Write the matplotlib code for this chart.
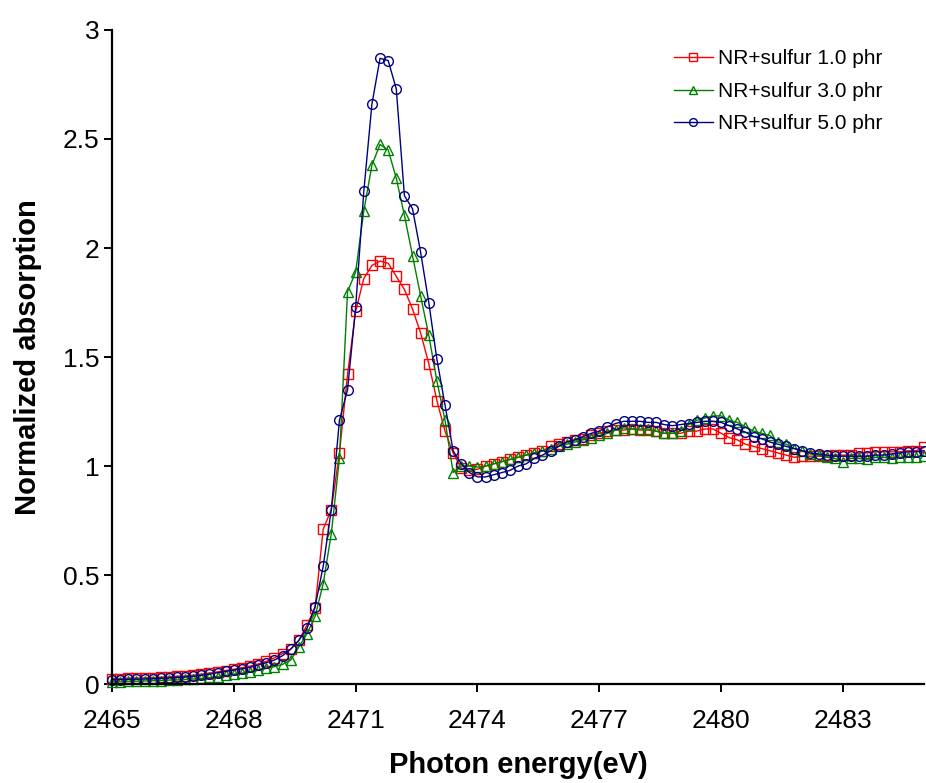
import numpy as np
import matplotlib
matplotlib.use('Agg')
import matplotlib.pyplot as plt

plt.rcParams['font.family'] = ['Liberation Sans', 'DejaVu Sans']

# energia co 0.2 eV od 2465 do 2485
e_start, e_step, n_pts = 2465.0, 0.2, 101
energy = np.round(e_start + e_step * np.arange(n_pts), 1)

labels = ['NR+sulfur 1.0 phr', 'NR+sulfur 3.0 phr', 'NR+sulfur 5.0 phr']

s10 = [0.025, 0.025, 0.026, 0.027, 0.028, 0.029, 0.031, 0.033, 0.035, 0.037,
       0.040, 0.045, 0.050, 0.056, 0.062, 0.068, 0.075, 0.082, 0.092, 0.104,
       0.120, 0.140, 0.160, 0.200, 0.270, 0.350, 0.710, 0.800, 1.060, 1.420,
       1.710, 1.860, 1.920, 1.940, 1.930, 1.870, 1.810, 1.720, 1.610, 1.470,
       1.300, 1.160, 1.060, 0.990, 0.980, 0.985, 1.000, 1.010, 1.020, 1.030,
       1.040, 1.050, 1.060, 1.070, 1.090, 1.100, 1.110, 1.120, 1.125, 1.140,
       1.150, 1.160, 1.165, 1.165, 1.170, 1.165, 1.165, 1.160, 1.150, 1.150,
       1.150, 1.160, 1.160, 1.170, 1.170, 1.150, 1.130, 1.120, 1.100, 1.090,
       1.080, 1.070, 1.060, 1.050, 1.040, 1.045, 1.045, 1.045, 1.045, 1.050,
       1.050, 1.050, 1.060, 1.060, 1.065, 1.065, 1.065, 1.065, 1.070, 1.070,
       1.085]

s30 = [0.010, 0.010, 0.012, 0.013, 0.014, 0.015, 0.016, 0.018, 0.019, 0.021,
       0.023, 0.026, 0.030, 0.034, 0.040, 0.045, 0.050, 0.056, 0.063, 0.072,
       0.080, 0.090, 0.110, 0.170, 0.230, 0.310, 0.460, 0.690, 1.035, 1.800,
       1.890, 2.170, 2.380, 2.475, 2.450, 2.320, 2.150, 1.965, 1.780, 1.600,
       1.390, 1.210, 0.970, 1.000, 1.000, 0.995, 1.000, 1.010, 1.020, 1.030,
       1.040, 1.050, 1.060, 1.070, 1.080, 1.090, 1.100, 1.110, 1.120, 1.130,
       1.140, 1.150, 1.165, 1.175, 1.170, 1.170, 1.170, 1.160, 1.150, 1.150,
       1.160, 1.190, 1.210, 1.220, 1.230, 1.230, 1.210, 1.200, 1.180, 1.160,
       1.150, 1.140, 1.110, 1.100, 1.080, 1.070, 1.055, 1.050, 1.040, 1.035,
       1.020, 1.035, 1.035, 1.030, 1.040, 1.040, 1.035, 1.040, 1.040, 1.040,
       1.045]

s50 = [0.020, 0.020, 0.021, 0.022, 0.023, 0.024, 0.026, 0.028, 0.030, 0.032,
       0.035, 0.040, 0.045, 0.052, 0.058, 0.064, 0.070, 0.077, 0.087, 0.098,
       0.110, 0.130, 0.160, 0.200, 0.255, 0.355, 0.540, 0.800, 1.210, 1.350,
       1.730, 2.260, 2.660, 2.870, 2.860, 2.730, 2.240, 2.180, 1.980, 1.750,
       1.490, 1.280, 1.070, 1.010, 0.970, 0.950, 0.950, 0.960, 0.970, 0.980,
       1.000, 1.010, 1.035, 1.050, 1.070, 1.090, 1.110, 1.120, 1.135, 1.150,
       1.160, 1.180, 1.195, 1.205, 1.205, 1.205, 1.200, 1.200, 1.190, 1.185,
       1.190, 1.195, 1.200, 1.205, 1.205, 1.200, 1.185, 1.170, 1.155, 1.135,
       1.125, 1.110, 1.100, 1.090, 1.080, 1.070, 1.060, 1.055, 1.050, 1.045,
       1.045, 1.045, 1.045, 1.045, 1.050, 1.050, 1.055, 1.060, 1.065, 1.065,
       1.070]

series = [s10, s30, s50]
colors = ['#FF0000', '#008000', '#000080']
markers = ['s', '^', 'o']

fig = plt.figure(figsize=(9.26, 7.83), dpi=100)
ax = fig.add_axes([0.121, 0.1264, 0.877, 0.8353])

for vals, lab, c, m in zip(series, labels, colors, markers):
    ax.plot(energy, vals, color=c, lw=1.0, marker=m, ms=7, mfc='none',
            mec=c, mew=1.0, label=lab, clip_on=False)

ax.set_xlim(2465, 2485)
ax.set_ylim(0, 3)
ax.set_xticks([2465, 2468, 2471, 2474, 2477, 2480, 2483])
ax.set_yticks([0, 0.5, 1, 1.5, 2, 2.5, 3])
ax.set_yticklabels(['0', '0.5', '1', '1.5', '2', '2.5', '3'])

for sp in ['top', 'right']:
    ax.spines[sp].set_visible(False)
for sp in ['left', 'bottom']:
    ax.spines[sp].set_linewidth(1.6)

ax.tick_params(axis='both', direction='out', length=6, width=1.4, labelsize=19)
ax.tick_params(axis='x', pad=12)
ax.tick_params(axis='y', pad=3)
ax.set_xlabel('Photon energy(eV)', fontsize=21, fontweight='bold', labelpad=13)
ax.set_ylabel('Normalized absorption', fontsize=21, fontweight='bold', labelpad=15)

ax.legend(loc='upper left', bbox_to_anchor=(0.728, 0.937),
          bbox_transform=fig.transFigure, frameon=False, fontsize=15,
          markerscale=0.8, handlelength=1.85, handletextpad=0.25,
          labelspacing=0.65, borderpad=0, borderaxespad=0)

fig.savefig('out.png', dpi=100)
